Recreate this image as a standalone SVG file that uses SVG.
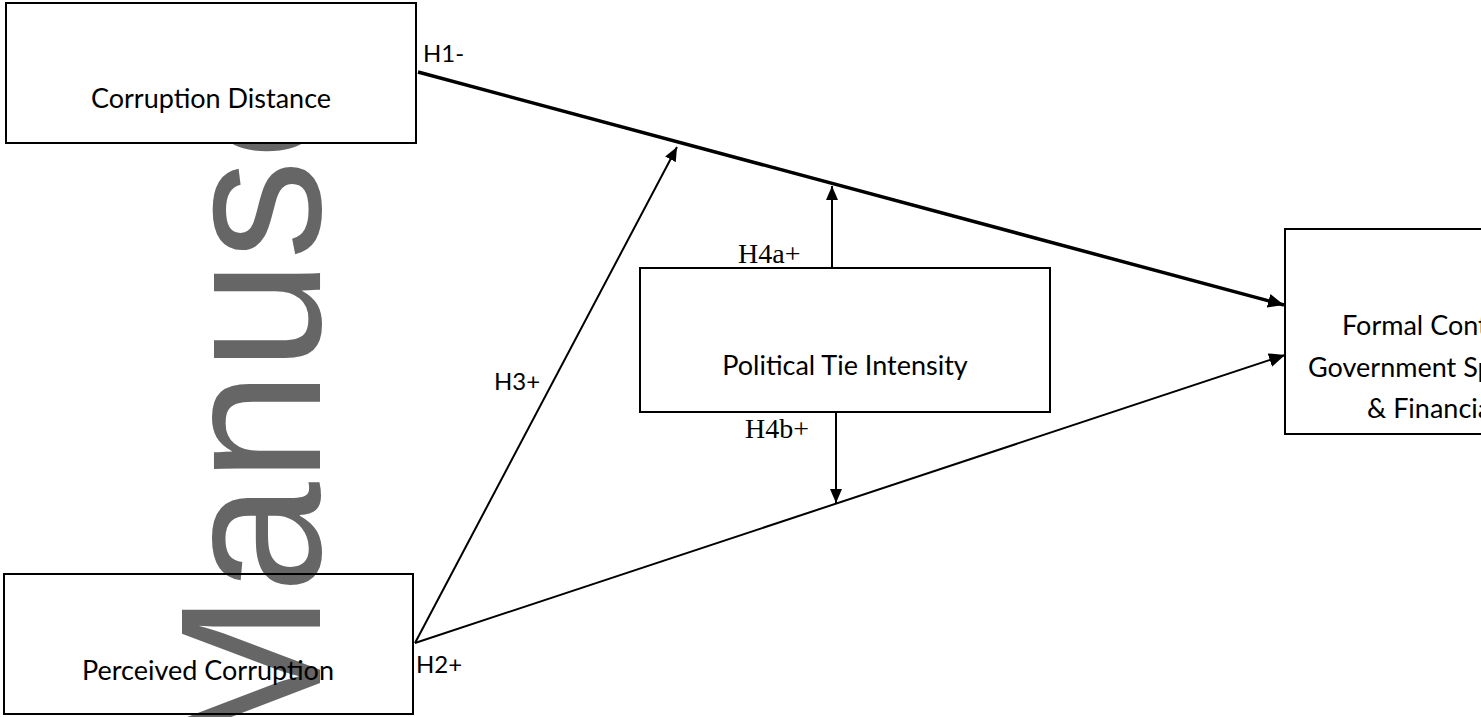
<svg xmlns="http://www.w3.org/2000/svg" width="1481" height="717" viewBox="0 0 1481 717">
<defs>
<style>
.box{stroke:#000;stroke-width:2;}
.lbl{font-family:Lato,"Open Sans",sans-serif;font-size:27px;fill:#000;}
.hl{font-family:Lato,"Open Sans",sans-serif;font-size:24px;fill:#000;}
.tm{font-family:"Liberation Serif","Times New Roman",serif;font-size:28px;fill:#000;}
.wm{font-family:"Liberation Sans",Arial,sans-serif;font-size:200px;fill:#666;}
.c1{stroke:#000;stroke-width:3.5;fill:none;}
.c2{stroke:#000;stroke-width:2;fill:none;}
</style>
<marker id="ahB" markerUnits="userSpaceOnUse" markerWidth="18" markerHeight="14" refX="16" refY="7" orient="auto">
<path d="M0,0 L16,7 L0,14 Z" fill="#000"/>
</marker>
<marker id="ah" markerUnits="userSpaceOnUse" markerWidth="16" markerHeight="12" refX="14" refY="6" orient="auto">
<path d="M0,0 L14,6 L0,12 Z" fill="#000"/>
</marker>
</defs>
<rect width="1481" height="717" fill="#fff"/>
<text class="wm" transform="translate(320,760) rotate(-90)">Manusc</text>
<g id="node-corruption-distance">
<rect class="box" x="6" y="3" width="410" height="140" fill="#fff"/>
<text class="lbl" x="211" y="108" text-anchor="middle">Corruption Distance</text>
</g>
<g id="node-perceived-corruption">
<rect class="box" x="4" y="574" width="409" height="140" fill="none"/>
<text class="lbl" x="208" y="680" text-anchor="middle">Perceived Corruption</text>
</g>
<g id="node-political-tie">
<rect class="box" x="640" y="268" width="410" height="144" fill="#fff"/>
<text class="lbl" x="845" y="375" text-anchor="middle">Political Tie Intensity</text>
</g>
<g id="node-formal">
<rect class="box" x="1285" y="229" width="210" height="205" fill="#fff"/>
<text class="lbl" x="1342" y="335">Formal Cont</text>
<text class="lbl" x="1308" y="377">Government Sp</text>
<text class="lbl" x="1367" y="418">&amp; Financia</text>
</g>
<g id="connectors">
<line class="c1" x1="418" y1="72" x2="1284" y2="305" marker-end="url(#ahB)"/>
<line class="c2" x1="415" y1="643" x2="1285" y2="355" marker-end="url(#ahB)"/>
<line class="c2" x1="415" y1="643" x2="677" y2="147" marker-end="url(#ah)"/>
<line class="c2" x1="832" y1="268" x2="832" y2="186" marker-end="url(#ah)"/>
<line class="c2" x1="836" y1="412" x2="836" y2="503" marker-end="url(#ah)"/>
</g>
<g id="labels">
<text class="hl" x="423" y="62">H1-</text>
<text class="hl" x="416" y="673">H2+</text>
<text class="hl" x="494" y="390">H3+</text>
<text class="tm" x="738" y="263">H4a+</text>
<text class="tm" x="745" y="438">H4b+</text>
</g>
</svg>
